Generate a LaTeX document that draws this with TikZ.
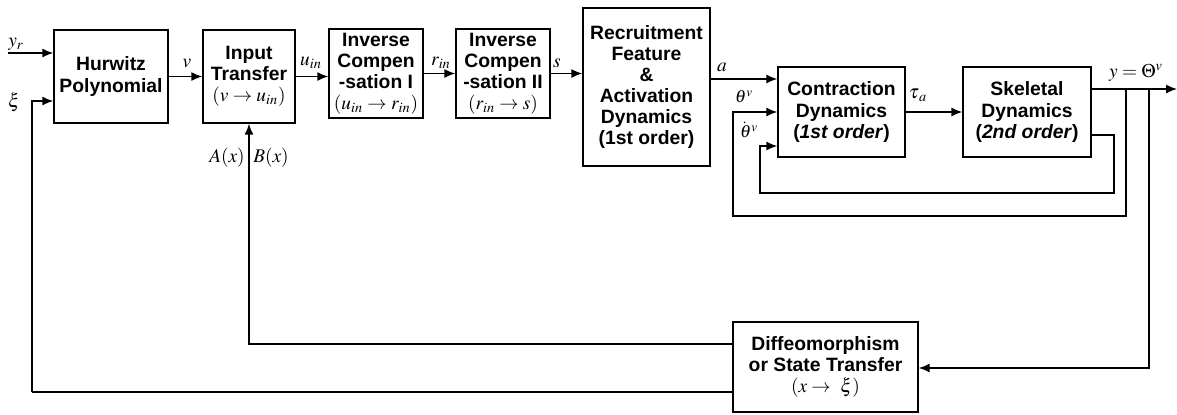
\documentclass[tikz,border=0pt]{standalone}
\usepackage{mathptmx}
\usepackage{fontspec}
\setmainfont{Liberation Sans}
\usetikzlibrary{arrows.meta}
\begin{document}
\begin{tikzpicture}[x=0.02cm, y=-0.02cm, line width=0.8pt,
	block/.style={draw, align=center, inner sep=1pt, font=\bfseries\fontsize{11}{12}\selectfont},
	sig/.style={-{Latex[length=2.2mm,width=1.8mm]}},
	lab/.style={font=\fontsize{11}{12}\selectfont, inner sep=0pt}]
	\useasboundingbox (0,0) rectangle (1177,414);
	\node[block, minimum width=2.28cm, minimum height=1.86cm] (hw) at (111,76.5) {Hurwitz\\Polynomial};
	\node[block, minimum width=1.84cm, minimum height=1.86cm] (it) at (249,76.5) {Input\\Transfer\\{\normalfont$(v\rightarrow u_{in})$}};
	\node[block, minimum width=1.88cm, minimum height=1.78cm] (ic1) at (376,73.5) {Inverse\\Compen\\-sation I\\{\normalfont$(u_{in}\rightarrow r_{in})$}};
	\node[block, minimum width=1.88cm, minimum height=1.78cm] (ic2) at (503,73.5) {Inverse\\Compen\\-sation II\\{\normalfont$(r_{in}\rightarrow s)$}};
	\node[block, minimum width=2.54cm, minimum height=3.16cm] (rec) at (646.5,87) {Recruitment\\Feature\\\&\\Activation\\Dynamics\\(1st order)};
	\node[block, minimum width=2.54cm, minimum height=1.8cm] (ct) at (841.5,112) {Contraction\\Dynamics\\(\textit{1st order})};
	\node[block, minimum width=2.56cm, minimum height=1.8cm] (sk) at (1027,112) {Skeletal\\Dynamics\\(\textit{2nd order})};
	\node[block, minimum width=3.7cm, minimum height=1.8cm] (dif) at (825.5,367) {Diffeomorphism\\or State Transfer\\{\normalfont$(x\rightarrow\ \xi)$}};
	\coordinate (yr) at (8,53);
	\coordinate (xi) at (32,101);
	\coordinate (yo) at (1177,89);
	\coordinate (b1) at (1126,89);
	\coordinate (b2) at (1114,135);
	\coordinate (b3) at (1149,89);
	\draw[sig] (yr) -- (yr -| hw.west);
	\draw[sig] (0,392 -| xi) |- (hw.west |- xi);
	\draw[sig] (hw.east) -- (it.west);
	\draw[sig] (it.east) -- (it.east -| ic1.west);
	\draw[sig] (ic1.east) -- (ic2.west);
	\draw[sig] (ic2.east) -- (ic2.east -| rec.west);
	\draw[sig] (rec.east |- 0,79) -- (ct.west |- 0,79);
	\draw[sig] (ct.east) -- (sk.east -| sk.west);
	\draw[sig] (sk.east |- yo) -- (yo);
	\draw[sig] (b1) -- (b1 |- 0,216) -- (733,216) |- (ct.west |- 0,112);
	\draw[sig] (sk.east |- b2) -- (b2) -- (b2 |- 0,193) -- (760,193) |- (ct.west |- 0,146);
	\draw[sig] (b3) |- (dif.east |- 0,368);
	\draw[sig] (dif.west |- 0,344) -| (it.south);
	\draw (dif.west |- 0,392) -- (0,392 -| xi);
	\node[lab] at (16,44) {$y_r$};
	\node[lab] at (14,102) {$\xi$};
	\node[lab] at (187,63) {$v$};
	\node[lab] at (311,63) {$u_{in}$};
	\node[lab] at (441,63) {$r_{in}$};
	\node[lab] at (557,63) {$s$};
	\node[lab] at (722,67) {$a$};
	\node[lab, font=\fontsize{10}{11}\selectfont] at (744,97) {$\theta^v$};
	\node[lab, font=\fontsize{10}{11}\selectfont] (thd) at (749,132) {$\theta^v$};
	\fill ([xshift=3pt, yshift=1.6pt]thd.north west) circle (0.5pt);
	\node[lab] at (918,95) {$\tau_{\,a}$};
	\node[lab] at (1136,73) {$y=\Theta^v$};
	\node[lab] at (227,158) {$A(x)$};
	\node[lab] at (271,158) {$B(x)$};
\end{tikzpicture}
\end{document}
